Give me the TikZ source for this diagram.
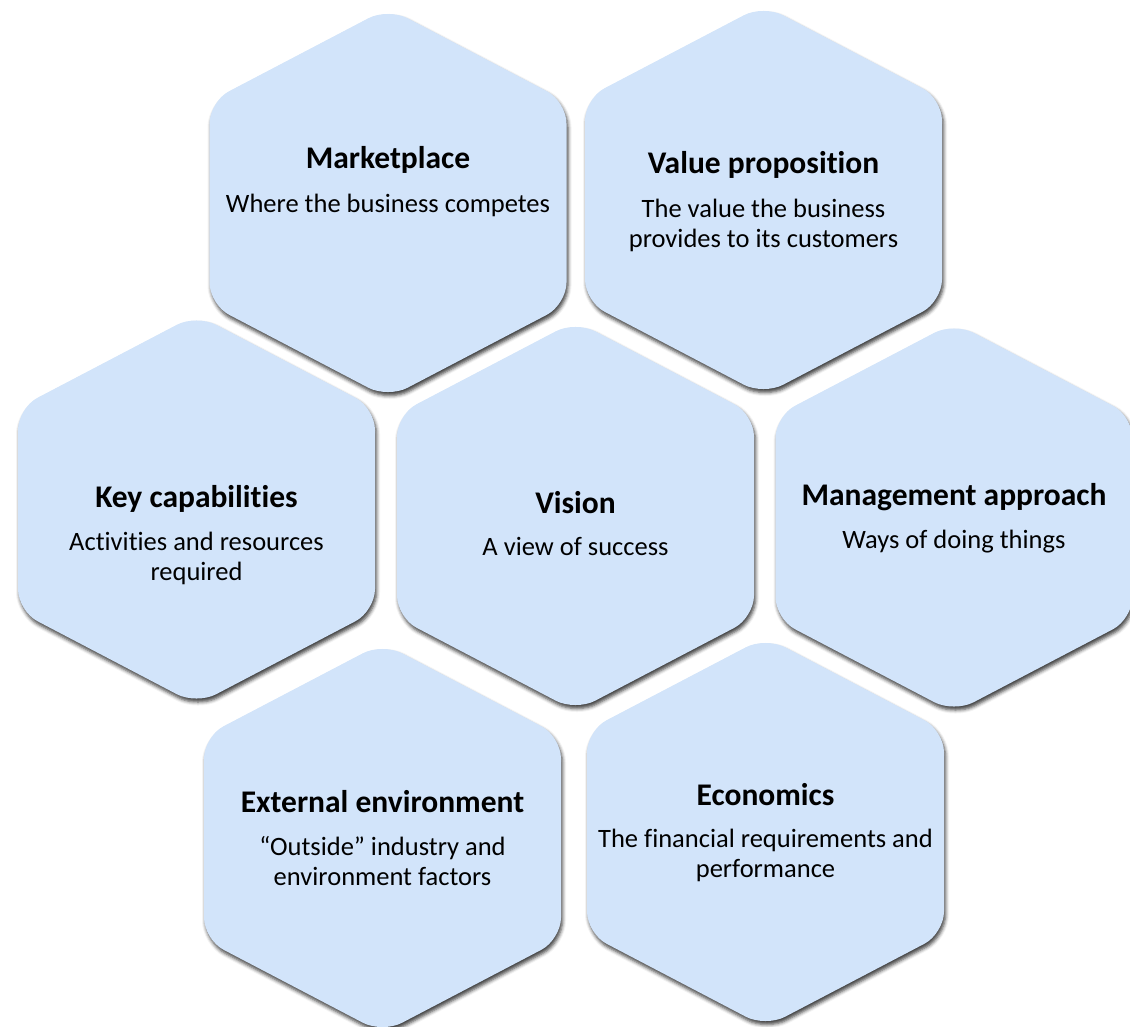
\documentclass[tikz,border=0pt]{standalone}
\usepackage{fontspec}
\setmainfont{Carlito}[Ligatures=NoCommon]
\usetikzlibrary{positioning,shadows.blur}
\definecolor{hexblue}{RGB}{210,228,250}

\begin{document}
\begin{tikzpicture}[x=1pt,y=-1pt,
                    hex/.style={fill=hexblue,rounded corners=22pt,
                      blur shadow={shadow xshift=1.5pt,shadow yshift=-3.5pt,shadow blur radius=3.5pt,shadow opacity=75}},
                    headtext/.style={anchor=base,font=\fontsize{31.5}{37}\selectfont\bfseries},
                    subtext/.style={anchor=base,align=center,font=\fontsize{26.5}{30}\selectfont}]
                    \useasboundingbox (0,0) rectangle (1130,1026);
                    \coordinate (mp) at (388,203);
                    \coordinate (vp) at (763.5,200);
                    \coordinate (kc) at (196.5,509.5);
                    \coordinate (vi) at (575.5,516);
                    \coordinate (ma) at (954,517.5);
                    \coordinate (ee) at (382.5,838);
                    \coordinate (ec) at (765.5,832);
                    \foreach \c in {mp,vp,kc,vi,ma,ee,ec}
                      \fill[hex,shift={(\c)}] (0,-195) -- (-178.5,-101.5) -- (-178.5,101.5) -- (0,195)
                        -- (178.5,101.5) -- (178.5,-101.5) -- cycle;
                    % two-line texts sit on the baseline of their last line
                    \node[headtext] (mpt) at (388,168) {Marketplace};
                    \node[subtext] (mps) at (388,212) {Where the business competes};
                    \node[headtext] (vpt) at (763.5,173) {Value proposition};
                    \node[subtext] (vps) at (763.5,247) {The value the business\\provides to its customers};
                    \node[headtext] (kct) at (196.5,507) {Key capabilities};
                    \node[subtext] (kcs) at (196.5,580) {Activities and resources\\required};
                    \node[headtext] (vit) at (575.5,513) {Vision};
                    \node[subtext] (vis) at (575.5,555) {A view of success};
                    \node[headtext] (mat) at (954,505) {Management approach};
                    \node[subtext] (mas) at (954,548) {Ways of doing things};
                    \node[headtext] (eet) at (382.5,812) {External environment};
                    \node[subtext] (ees) at (382.5,885) {“Outside” industry and\\environment factors};
                    \node[headtext] (ect) at (765.5,805) {Economics};
                    \node[subtext] (ecs) at (765.5,877) {The financial requirements and\\performance};
                \end{tikzpicture}
\end{document}
